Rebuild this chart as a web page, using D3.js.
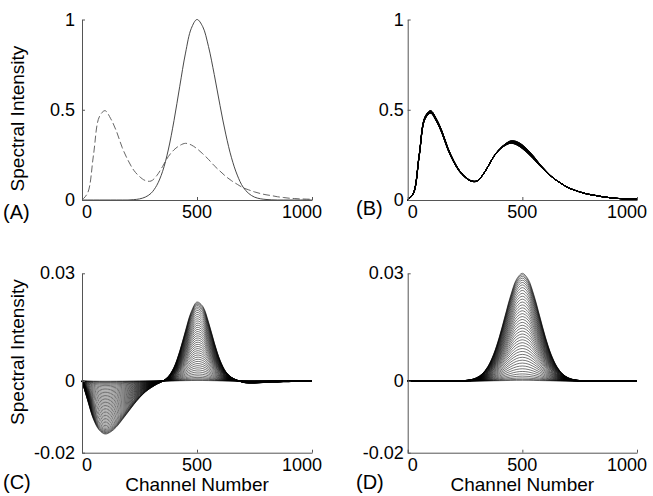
<!DOCTYPE html>
<meta charset="utf-8">
<style>
body { margin: 0; background: #fff; }
svg { font-family: "Liberation Sans", Arial, sans-serif; }
</style>
<body>
<div id="chart"></div>
<script src="https://d3js.org/d3.v7.min.js"></script>
<script>

// channel grid the curves were read on
var channels = [0,25,50,75,100,125,150,175,200,225,250,275,300,325,350,375,400,425,450,475,
                500,525,550,575,600,625,650,675,700,725,750,775,800,825,850,875,900,925,950,975,1000];

// (A) solid band, normalised
var solidA = [0,0,0,0,0,0,0,0,0,0.002,0.006,0.016,0.037,0.081,0.157,0.277,0.44,0.63,0.814,0.95,
              1.0,0.96,0.85,0.695,0.524,0.365,0.234,0.138,0.072,0.036,0.016,0.007,0.003,0.001,0,0,0,0,0,0,0];

// (A) dashed spectrum, also the first spectrum of (B)
var dashedA = [0,0.04,0.25,0.46,0.495,0.45,0.38,0.29,0.22,0.165,0.13,0.108,0.105,0.135,0.185,0.24,0.278,0.302,0.314,0.305,
               0.284,0.256,0.225,0.19,0.16,0.131,0.107,0.087,0.068,0.056,0.045,0.036,0.029,0.024,0.018,0.014,0.01,0.008,0.006,0.005,0.004];

// (C) largest difference spectrum
var diffC = [0,-0.0055,-0.0107,-0.0137,-0.0148,-0.0142,-0.0128,-0.0108,-0.0087,-0.0066,-0.0047,-0.0031,-0.0019,-0.0009,-0.0001,
             0.0012,0.0038,0.0083,0.014,0.0193,0.022,0.0208,0.0164,0.0107,0.0058,0.0026,0.001,0.0002,-0.0004,-0.0006,
             -0.0006,-0.0005,-0.0004,-0.0003,-0.0003,-0.0002,-0.0002,-0.0001,-0.0001,0,0];

// (D) band profile, normalised, peak 0.03
var peakD = [0,0,0,0,0,0,0,0,0,0.001,0.004,0.011,0.029,0.066,0.135,0.249,0.411,0.607,0.8,0.946,
             1,0.946,0.8,0.607,0.411,0.249,0.135,0.066,0.029,0.011,0.004,0.001,0,0,0,0,0,0,0,0,0];
var peakDMax = 0.03;

// relative size of each spectrum in the series
var stepFrac = [0.006,0.015,0.028,0.045,0.065,0.088,0.113,0.139,0.166,0.193,0.22,0.247,0.274,0.301,0.328,
                0.355,0.382,0.409,0.436,0.463,0.49,0.517,0.544,0.571,0.598,0.625,0.652,0.679,0.706,0.733,
                0.76,0.787,0.814,0.841,0.867,0.892,0.915,0.936,0.955,0.972,0.987,1.0];

var xTicks = [0, 500, 1000];
var yTicksTop = [0, 0.5, 1];
var yTicksBottom = [-0.02, 0, 0.03];
var panelNames = ["(A)", "(B)", "(C)", "(D)"];
var yTitle = "Spectral Intensity";
var xTitle = "Channel Number";

var width = 653, height = 496;

var svg = d3.select("#chart")
  .append("svg")
    .attr("width", width)
    .attr("height", height);

var panels = [
  {left: 82,    right: 312, top: 19.5,  bottom: 200,   dom: [0, 1],        ticks: yTicksTop,    gap: 7, lx: 3,   ly: 219, ty: 118.5},
  {left: 407.7, right: 637, top: 19.5,  bottom: 200,   dom: [0, 1],        ticks: yTicksTop,    gap: 4, lx: 356, ly: 215},
  {left: 82,    right: 312, top: 273.3, bottom: 452.7, dom: [-0.02, 0.03], ticks: yTicksBottom, gap: 7, lx: 3,   ly: 489, ty: 352},
  {left: 407.7, right: 637, top: 273.3, bottom: 452.7, dom: [-0.02, 0.03], ticks: yTicksBottom, gap: 4, lx: 356, ly: 489}
];
var xLabelShift = [5, 0, -10];

panels.forEach(function(p, i) {
  p.x = d3.scaleLinear().domain([0, 1000]).range([p.left, p.right]);
  p.y = d3.scaleLinear().domain(p.dom).range([p.bottom, p.top]);
  p.g = svg.append("g");
});

function line(p) {
  return d3.line()
    .x(function(d, j) { return p.x(channels[j]); })
    .y(function(d) { return p.y(d); })
    .curve(d3.curveCatmullRom.alpha(0.5));
}

// (A)
var pa = panels[0];
pa.g.append("path").attr("d", line(pa)(dashedA))
  .attr("fill", "none").attr("stroke", "#555").attr("stroke-width", 0.9)
  .attr("stroke-dasharray", "7,3");
pa.g.append("path").attr("d", line(pa)(solidA))
  .attr("fill", "none").attr("stroke", "#333").attr("stroke-width", 0.9);

// (B) spectra = first spectrum plus the differences of (C)
var pb = panels[1];
pb.g.selectAll("path.s").data(stepFrac).enter().append("path")
  .attr("class", "s")
  .attr("d", function(f) { return line(pb)(dashedA.map(function(v, j) { return v + f * diffC[j]; })); })
  .attr("fill", "none").attr("stroke", "#000").attr("stroke-width", 0.4);

// (C)
var pc = panels[2];
pc.g.selectAll("path.s").data(stepFrac).enter().append("path")
  .attr("class", "s")
  .attr("d", function(f) { return line(pc)(diffC.map(function(v) { return f * v; })); })
  .attr("fill", "none").attr("stroke", "#000").attr("stroke-width", 0.55);

// (D)
var pd = panels[3];
pd.g.selectAll("path.s").data(stepFrac).enter().append("path")
  .attr("class", "s")
  .attr("d", function(f) { return line(pd)(peakD.map(function(v) { return f * peakDMax * v; })); })
  .attr("fill", "none").attr("stroke", "#000").attr("stroke-width", 0.55);

// axes, matlab style: left and bottom only, ticks pointing in
panels.forEach(function(p, i) {
  svg.append("g").attr("transform", "translate(0," + p.bottom + ")")
    .call(d3.axisBottom(p.x).tickValues(xTicks).tickSizeInner(-3).tickSizeOuter(0).tickPadding(0).tickFormat(""));
  svg.append("g").attr("transform", "translate(" + p.left + ",0)")
    .call(d3.axisLeft(p.y).tickValues(p.ticks).tickSizeInner(-3).tickSizeOuter(0).tickFormat(""));
  svg.selectAll(".domain").attr("stroke", "#555");
  svg.selectAll(".tick line").attr("stroke", "#555");

  svg.append("g").selectAll("text").data(xTicks).enter().append("text")
    .attr("x", function(d, k) { return p.x(d) + xLabelShift[k]; })
    .attr("y", p.bottom + 18)
    .attr("text-anchor", "middle")
    .attr("font-size", 18)
    .text(function(d) { return d; });

  svg.append("g").selectAll("text").data(p.ticks).enter().append("text")
    .attr("x", p.left - p.gap)
    .attr("y", function(d) { return p.y(d) + 6; })
    .attr("text-anchor", "end")
    .attr("font-size", 18)
    .text(function(d) { return String(d); });

  svg.append("text")
    .attr("x", p.lx).attr("y", p.ly)
    .attr("font-size", 20)
    .text(panelNames[i]);
});

// axis titles
[panels[0], panels[2]].forEach(function(p) {
  svg.append("text")
    .attr("transform", "translate(24," + p.ty + ") rotate(-90)")
    .attr("text-anchor", "middle")
    .attr("font-size", 19)
    .text(yTitle);
});
[panels[2], panels[3]].forEach(function(p) {
  svg.append("text")
    .attr("x", (p.left + p.right) / 2)
    .attr("y", 491)
    .attr("text-anchor", "middle")
    .attr("font-size", 19)
    .text(xTitle);
});

</script>
